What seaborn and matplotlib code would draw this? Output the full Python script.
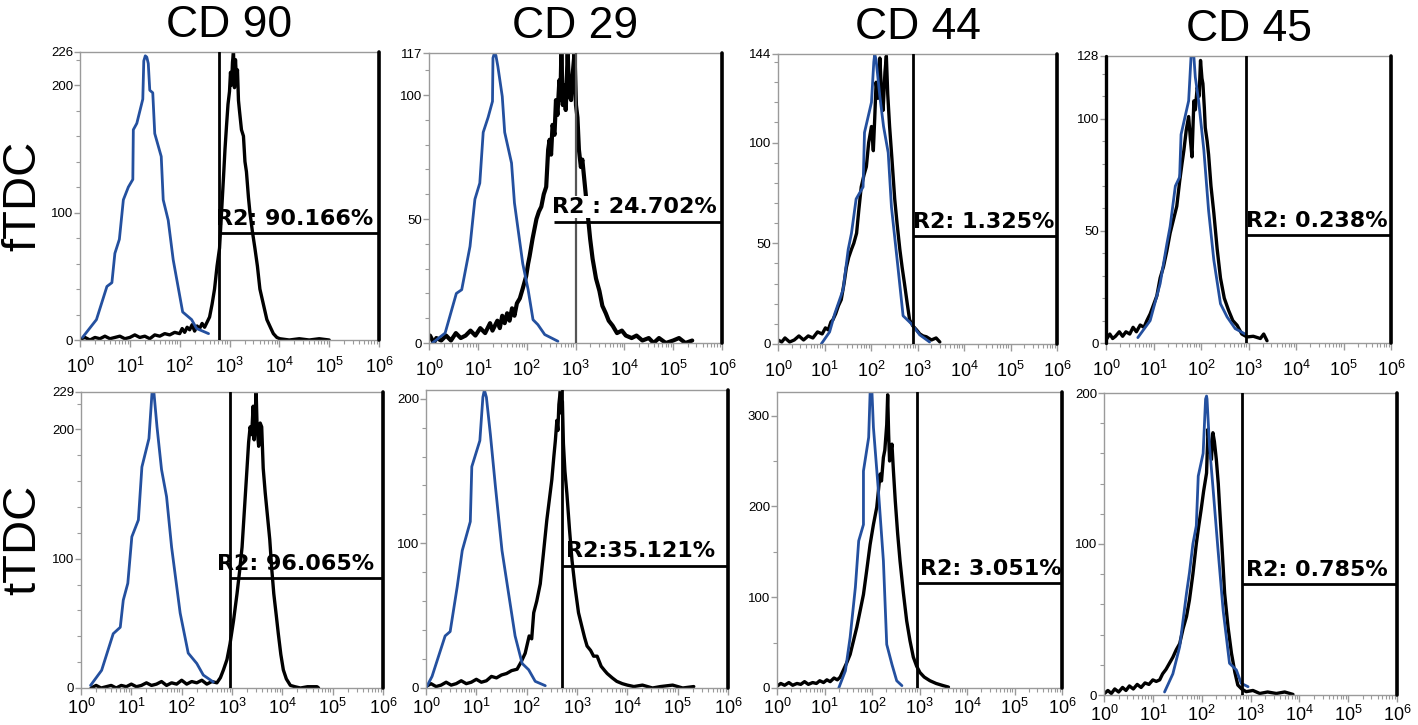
import numpy as np
import pandas as pd
import seaborn as sns
import matplotlib.pyplot as plt
from matplotlib.ticker import FixedLocator, MultipleLocator, LogLocator, LogFormatterMathtext, NullFormatter

sns.set_theme(style="white")
plt.rcParams['font.family'] = ['Liberation Sans', 'DejaVu Sans']
plt.rcParams['mathtext.fontset'] = 'custom'
plt.rcParams['mathtext.rm'] = 'Liberation Sans'
plt.rcParams['mathtext.it'] = 'Liberation Sans:italic'
plt.rcParams['mathtext.bf'] = 'Liberation Sans:bold'
plt.rcParams['text.color'] = 'black'
plt.rcParams['xtick.labelcolor'] = 'black'
plt.rcParams['ytick.labelcolor'] = 'black'

markers = ["CD 90", "CD 29", "CD 44", "CD 45"]
groups = ["fTDC", "tTDC"]

# (log10 fluorescence, count)
# fTDC, isotype control (blue)
f90_iso = [(0.05,2),(0.33,16),(0.54,42),(0.64,45),(0.70,68),(0.79,79),(0.87,110),(0.97,120),(1.06,126),(1.07,165),(1.14,170),(1.26,189),(1.28,219),(1.31,223),(1.34,222),(1.37,217),(1.40,196),(1.46,194),(1.50,162),(1.63,144),(1.67,110),(1.77,94),(1.87,63),(2.06,22),(2.24,16),(2.34,9),(2.58,5)]
f29_iso = [(0.07,0),(0.33,4),(0.56,20),(0.67,21.5),(0.84,39),(0.94,58),(1.04,64.5),(1.11,85),(1.21,91),(1.30,97.5),(1.31,115),(1.34,117),(1.37,116),(1.41,111.6),(1.50,99.5),(1.55,85),(1.69,72.6),(1.75,56.5),(1.92,32),(2.03,21.5),(2.13,9.4),(2.23,7.4),(2.37,3.4),(2.64,0.7)]
f44_iso = [(0.93,0),(1.11,6),(1.22,15),(1.40,27),(1.51,47),(1.58,55),(1.68,72),(1.83,78),(1.86,105),(2.01,120),(2.06,140),(2.08,144),(2.11,141),(2.19,123),(2.27,108),(2.37,95),(2.44,68),(2.58,38),(2.69,14),(2.87,10),(3.05,4.5),(3.26,1)]
f45_iso = [(0.67,2.4),(0.93,10),(1.14,26.5),(1.28,44),(1.35,52),(1.46,70),(1.55,74),(1.58,93),(1.74,108),(1.79,127.6),(1.82,128),(1.85,127.6),(1.88,118.6),(1.95,108),(2.06,86),(2.16,59),(2.27,37),(2.41,17.5),(2.55,11.6),(2.72,6.4),(2.93,4)]

# fTDC, stained sample (black)
f90_cd = [(0.03,1),(0.1,2),(0.2,0),(0.3,2),(0.4,1),(0.5,3),(0.6,1),(0.7,2),(0.8,3),(0.9,1),(1.0,2),(1.1,4),(1.2,2),(1.3,3),(1.4,1),(1.5,4),(1.6,3),(1.7,5),(1.8,4),(1.9,6),(2.0,5),(2.05,9),(2.1,6),(2.15,10),(2.2,8),(2.25,12),(2.3,7),(2.35,11),(2.4,9),(2.45,13),(2.5,10),(2.55,14),(2.6,18),(2.65,28),(2.7,40),(2.75,58),(2.8,72),(2.84,100),(2.88,128),(2.91,150),(2.94,168),(2.97,185),(3.0,195),(3.02,210),(3.04,200),(3.06,218),(3.08,226),(3.1,198),(3.12,220),(3.14,205),(3.16,212),(3.18,188),(3.2,180),(3.24,165),(3.28,160),(3.31,140),(3.34,132),(3.38,112),(3.41,100),(3.46,85),(3.51,72),(3.56,58),(3.61,40),(3.68,28),(3.75,16),(3.82,10),(3.88,5),(3.95,2),(4.01,1),(4.2,0),(4.4,1),(4.6,0),(4.8,1),(5.0,0)]
f29_cd = [(0.02,3),(0.1,0),(0.15,2),(0.25,1),(0.35,3),(0.45,1),(0.55,4),(0.65,2),(0.75,3),(0.85,5),(0.95,3),(1.05,6),(1.15,4),(1.25,8),(1.3,5),(1.4,9),(1.45,6),(1.5,11),(1.55,8),(1.6,12),(1.65,9),(1.7,14),(1.75,11),(1.8,16),(1.86,18),(1.92,22),(1.99,27),(2.03,32),(2.06,35),(2.12,42),(2.2,50),(2.25,53),(2.3,55),(2.35,60),(2.4,63),(2.44,78),(2.47,82),(2.5,76),(2.53,88),(2.57,84),(2.6,98),(2.63,92),(2.67,106),(2.69,98),(2.71,117),(2.74,96),(2.77,104),(2.8,94),(2.84,117),(2.87,100),(2.91,98),(2.94,108),(2.98,117),(3.01,96),(3.04,91),(3.07,78),(3.11,71),(3.14,74),(3.18,66),(3.21,60),(3.25,52),(3.3,42),(3.35,34),(3.42,26),(3.49,21),(3.55,15),(3.62,12),(3.68,9),(3.76,7),(3.85,4),(3.95,5),(4.03,3),(4.15,2),(4.25,3),(4.37,1),(4.5,2),(4.6,0),(4.71,2),(4.85,0),(5.0,1),(5.12,2),(5.25,0),(5.39,1)]
f44_cd = [(0.0,2),(0.08,1),(0.15,3),(0.25,1),(0.35,2),(0.45,4),(0.55,2),(0.65,4),(0.75,3),(0.85,6),(0.95,5),(1.02,8),(1.08,7),(1.14,11),(1.18,12),(1.24,15),(1.3,19),(1.36,22),(1.42,30),(1.47,38),(1.52,43),(1.58,47),(1.63,50),(1.69,55),(1.74,67),(1.79,78),(1.85,84),(1.9,88),(1.95,100),(2.01,108),(2.05,96),(2.08,112),(2.11,130),(2.15,122),(2.19,142),(2.22,128),(2.26,116),(2.3,135),(2.33,143),(2.36,124),(2.4,108),(2.45,92),(2.51,72),(2.56,60),(2.62,47),(2.67,38),(2.72,30),(2.78,20),(2.83,12),(2.9,9),(2.98,7),(3.05,5),(3.12,4),(3.19,3.6),(3.3,2),(3.4,3),(3.48,1)]
f45_cd = [(0.02,2),(0.08,4),(0.14,2),(0.2,3),(0.28,5),(0.35,3),(0.42,5),(0.5,4),(0.57,7),(0.64,5),(0.72,8),(0.8,7),(0.86,10),(0.93,13),(1.0,17),(1.07,21),(1.14,29),(1.21,34),(1.28,41),(1.35,49),(1.42,55),(1.49,61),(1.55,72),(1.6,80),(1.64,86),(1.69,95),(1.74,101),(1.78,90),(1.81,83),(1.85,108),(1.88,104),(1.92,114),(1.96,110),(1.99,126),(2.02,118),(2.04,115.7),(2.07,105),(2.09,96),(2.13,90),(2.16,84),(2.21,70),(2.27,58),(2.34,42),(2.41,29),(2.49,20),(2.58,14.6),(2.67,10),(2.76,7.9),(2.86,4),(2.97,2.7),(3.1,3),(3.25,2),(3.32,4),(3.39,1)]

# tTDC, isotype control (blue)
t90_iso = [(0.19,2),(0.41,13.7),(0.64,42),(0.78,47),(0.84,68),(0.93,81),(1.01,117),(1.14,130),(1.21,171),(1.35,193),(1.41,228),(1.43,229),(1.45,228),(1.51,202),(1.60,169),(1.70,148),(1.80,109),(1.97,58),(2.13,27),(2.30,19),(2.43,10),(2.63,4.6)]
t29_iso = [(0.0,0),(0.12,8),(0.38,36),(0.48,39),(0.62,70),(0.72,95),(0.88,115),(0.91,153),(1.07,171),(1.13,201),(1.16,206),(1.20,201),(1.28,175),(1.38,139),(1.51,95),(1.64,65.5),(1.77,36),(1.91,17),(2.04,12.6),(2.17,4.6),(2.37,1.6)]
t44_iso = [(1.30,0),(1.44,19),(1.54,56),(1.65,111),(1.72,162),(1.82,180),(1.82,239),(1.93,276),(1.96,325),(1.98,326),(2.00,325),(2.03,287),(2.14,213.6),(2.24,140),(2.31,48),(2.42,26),(2.52,8),(2.63,2.6)]
t45_iso = [(1.24,2),(1.41,14),(1.55,32),(1.69,67.5),(1.75,81),(1.82,100),(1.89,112),(1.93,145),(2.03,160),(2.08,196),(2.10,198),(2.11,196),(2.16,165),(2.23,138),(2.33,98),(2.44,56),(2.57,21),(2.71,16.6),(2.81,7.7),(2.95,5.5)]

# tTDC, stained sample (black)
t90_cd = [(0.2,0),(0.3,2),(0.4,0),(0.5,1),(0.6,2),(0.7,0),(0.8,2),(0.9,1),(1.0,3),(1.1,1),(1.2,2),(1.3,4),(1.4,2),(1.5,3),(1.6,5),(1.7,2),(1.8,4),(1.9,3),(2.0,6),(2.1,3),(2.2,5),(2.3,4),(2.4,6),(2.5,3),(2.6,5),(2.7,4),(2.77,8),(2.83,14),(2.9,22),(2.96,34),(3.03,52),(3.1,73),(3.15,90),(3.2,109),(3.25,140),(3.3,171),(3.33,190),(3.36,202),(3.39,196),(3.42,218),(3.44,192),(3.46,212),(3.48,229),(3.5,200),(3.53,187),(3.56,205),(3.59,202),(3.62,170),(3.66,151),(3.7,135),(3.75,115),(3.79,92),(3.83,73),(3.88,56),(3.92,42),(3.97,26),(4.02,14),(4.08,7),(4.16,2),(4.25,1),(4.36,0),(4.5,1),(4.69,1),(4.72,0)]
t29_cd = [(0.0,1),(0.1,3),(0.2,1),(0.3,2),(0.4,4),(0.5,2),(0.6,3),(0.7,5),(0.8,3),(0.9,4),(1.0,6),(1.1,4),(1.2,5),(1.3,8),(1.4,7),(1.5,9),(1.6,10),(1.7,12),(1.81,13),(1.89,18),(1.97,24),(2.05,36),(2.1,34),(2.14,52),(2.2,60),(2.27,72),(2.33,92),(2.4,116),(2.45,130),(2.5,144),(2.54,160),(2.57,171),(2.6,185),(2.62,178),(2.64,196),(2.67,206),(2.69,190),(2.71,198),(2.73,169),(2.76,150),(2.8,134),(2.85,110),(2.9,88.5),(2.96,70),(3.03,52),(3.1,42),(3.15,35),(3.2,29),(3.27,26),(3.33,22),(3.4,22),(3.48,15),(3.55,12),(3.6,10),(3.7,7),(3.79,4.6),(3.9,3),(4.0,2),(4.13,1),(4.3,2),(4.5,0),(4.66,1),(4.9,2),(5.1,0),(5.32,1)]
t44_cd = [(0.0,2),(0.08,5),(0.16,3),(0.25,6),(0.33,3),(0.42,5),(0.5,4),(0.58,7),(0.66,4),(0.75,6),(0.83,5),(0.9,8),(0.98,6),(1.05,9),(1.12,7),(1.2,11),(1.27,9),(1.33,12),(1.4,20),(1.47,28),(1.54,37),(1.61,52),(1.68,67),(1.75,85),(1.82,103),(1.89,130),(1.96,158),(2.03,180),(2.1,199),(2.14,220),(2.17,235.6),(2.2,228),(2.24,254),(2.27,262),(2.29,276),(2.31,290),(2.33,323),(2.35,280),(2.37,250),(2.4,262),(2.42,268.6),(2.45,240),(2.49,206),(2.54,170),(2.59,140),(2.66,105),(2.73,74),(2.8,52),(2.87,34),(2.94,24),(3.01,17),(3.1,12),(3.22,8),(3.35,5),(3.5,2.6),(3.61,1)]
t45_cd = [(0.01,1),(0.08,3),(0.15,1),(0.22,4),(0.3,2),(0.38,5),(0.45,3),(0.52,6),(0.6,4),(0.68,7),(0.76,5),(0.84,8),(0.92,7),(1.0,10),(1.07,9),(1.14,10),(1.2,14),(1.27,17),(1.34,21),(1.41,25),(1.48,30),(1.55,34),(1.62,44),(1.69,52),(1.75,63),(1.82,80),(1.89,100),(1.94,112),(1.99,123),(2.04,135),(2.1,147),(2.13,176),(2.16,165),(2.2,156),(2.23,173.7),(2.26,168),(2.3,156),(2.34,140),(2.37,123),(2.42,96),(2.47,67.5),(2.54,45),(2.61,27.7),(2.68,15),(2.74,6.6),(2.82,4),(2.91,2.2),(3.05,3),(3.19,1),(3.35,2),(3.53,1),(3.7,2),(3.87,0.4)]

iso_curves = [[f90_iso, f29_iso, f44_iso, f45_iso], [t90_iso, t29_iso, t44_iso, t45_iso]]
cd_curves = [[f90_cd, f29_cd, f44_cd, f45_cd], [t90_cd, t29_cd, t44_cd, t45_cd]]

# y axis: top of scale, labelled ticks, minor tick step
y_top = [[226, 117, 144, 128], [229, 206, 326, 200]]
y_labels = [[[0, 100, 200, 226], [0, 50, 100, 117], [0, 50, 100, 144], [0, 50, 100, 128]],
            [[0, 100, 200, 229], [0, 100, 200], [0, 100, 200, 300], [0, 100, 200]]]
y_minor = [[20, 10, 10, 10], [20, 20, 50, 20]]

# R2 gate: cut (log10), start of the marker bar (log10), bar height, label
gate_cut = [[2.79, 3.02, 2.90, 2.95], [2.96, 2.70, 2.95, 2.83]]
gate_start = [[2.79, 2.55, 2.90, 2.95], [2.96, 2.70, 2.95, 2.83]]
gate_level = [[84, 49, 53.6, 48], [85, 84.6, 115.6, 73.7]]
gate_text = [["R2: 90.166%", "R2 : 24.702%", "R2: 1.325%", "R2: 0.238%"],
             ["R2: 96.065%", "R2:35.121%", "R2: 3.051%", "R2: 0.785%"]]

W, H = 1418, 725
boxes = [[(80, 379, 52, 340), (429, 722, 53, 343), (778, 1057, 54, 344), (1106, 1391, 56, 343)],
         [(81, 383, 392, 688), (426, 728, 390, 688), (777, 1062, 392, 688), (1104, 1397, 393, 695)]]
label_dx = [[-2, -1, 0, 0], [-9, 3, 2, 3]]

blue = "#24509f"
grey = "#9a9a9a"

fig = plt.figure(figsize=(W / 100, H / 100), dpi=100)

for r in range(2):
    for c in range(4):
        l, rt, t, b = boxes[r][c]
        ax = fig.add_axes([l / W, 1 - b / H, (rt - l) / W, (b - t) / H])

        cd = pd.DataFrame(cd_curves[r][c], columns=["logx", "count"])
        iso = pd.DataFrame(iso_curves[r][c], columns=["logx", "count"])
        cd["x"] = 10 ** cd["logx"]
        iso["x"] = 10 ** iso["logx"]

        sns.lineplot(data=cd, x="x", y="count", ax=ax, color="black",
                     lw=3.0 if c == 1 and r == 0 else 2.4, estimator=None, sort=False)
        sns.lineplot(data=iso, x="x", y="count", ax=ax, color=blue, lw=2.0,
                     estimator=None, sort=False)

        ax.set_xscale("log")
        ax.set_xlim(1, 1e6)
        ax.set_ylim(0, y_top[r][c])

        # gate
        cut = 10 ** gate_cut[r][c]
        start = 10 ** gate_start[r][c]
        lvl = gate_level[r][c]
        vcol = "#555555" if (r == 0 and c == 1) else "black"
        ax.axvline(cut, color=vcol, lw=2.0 if vcol == "black" else 1.6, zorder=5)
        ax.axvline(1e6, color="black", lw=2.6, clip_on=False, zorder=5)
        ax.hlines(lvl, start, 1e6, color="black", lw=2.0, zorder=5)
        if r == 0 and c == 3:
            ax.axvline(1, color="black", lw=2.4, clip_on=False, zorder=5)
        ax.annotate(gate_text[r][c], xy=(start, lvl), xytext=(label_dx[r][c], 3),
                    textcoords="offset points", ha="left", va="bottom", color="black",
                    fontsize=16, fontweight="bold", family="DejaVu Sans", zorder=6,
                    bbox=dict(boxstyle="square,pad=0.05", fc="white", ec="none") if (r == 0 and c == 1) else None)

        # axes styling
        for s in ax.spines.values():
            s.set_color(grey)
            s.set_linewidth(1.0)
        ax.xaxis.set_major_locator(LogLocator(base=10, numticks=10))
        ax.xaxis.set_major_formatter(LogFormatterMathtext())
        ax.xaxis.set_minor_locator(LogLocator(base=10, subs=np.arange(2, 10), numticks=20))
        ax.xaxis.set_minor_formatter(NullFormatter())
        ax.yaxis.set_major_locator(FixedLocator(y_labels[r][c]))
        ax.yaxis.set_minor_locator(MultipleLocator(y_minor[r][c]))
        ax.tick_params(axis="x", which="major", direction="out", length=5, width=1,
                       color=grey, labelsize=13, pad=7 if r == 0 else 2, bottom=True)
        ax.tick_params(axis="x", which="minor", direction="out", length=3, width=0.8,
                       color=grey, bottom=True)
        ax.tick_params(axis="y", which="major", direction="out", length=4, width=1,
                       color=grey, labelsize=9.5, pad=1, left=True)
        ax.tick_params(axis="y", which="minor", direction="out", length=3, width=0.8,
                       color=grey, left=True)
        ax.set_xlabel("")
        ax.set_ylabel("")

        if r == 0:
            ax.set_title(markers[c], fontsize=32, pad=11, color="black")
        if c == 0:
            ax.text(-0.19, 0.5, groups[r], transform=ax.transAxes, rotation=90,
                    ha="center", va="center", fontsize=34, color="black")

fig.savefig("out.png", dpi=100, facecolor="white")
